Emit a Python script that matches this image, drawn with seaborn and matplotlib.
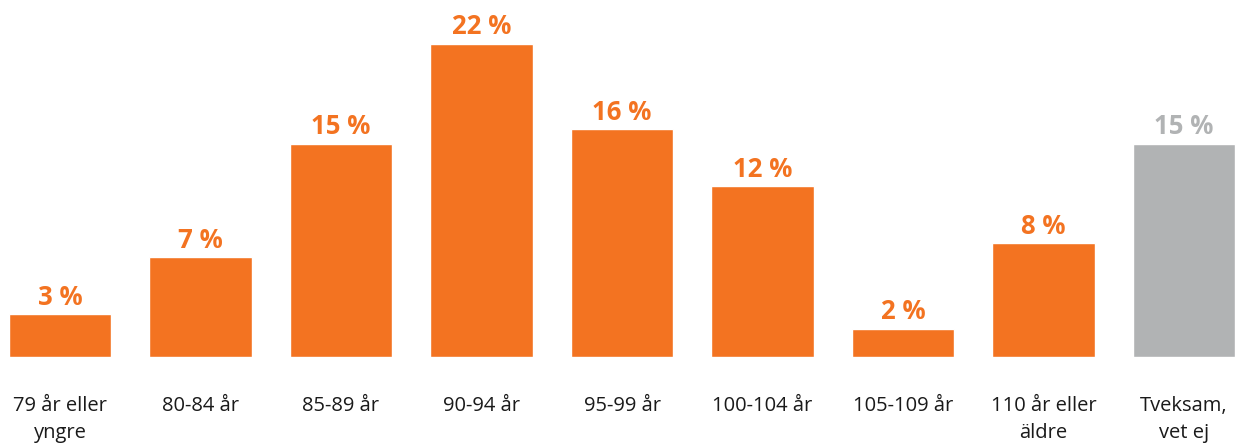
import pandas as pd
import seaborn as sns
import matplotlib.pyplot as plt

categories = ['79 år eller\nyngre', '80-84 år', '85-89 år', '90-94 år', '95-99 år',
              '100-104 år', '105-109 år', '110 år eller\näldre', 'Tveksam,\nvet ej']
values = [3, 7, 15, 22, 16, 12, 2, 8, 15]
orange = '#F37321'
grey = '#B1B3B4'
colors = [orange] * 8 + [grey]

df = pd.DataFrame({'cat': categories, 'val': values})

sns.set_style('white')
plt.rcParams['font.family'] = ['Open Sans', 'DejaVu Sans']

fig = plt.figure(figsize=(12.43, 4.46), dpi=100)
ax = fig.add_axes([0, 89 / 446, 1, (446 - 89) / 446])

sns.barplot(data=df, x='cat', y='val', hue='cat', palette=colors, legend=False,
            width=0.726, saturation=1, ax=ax)

for cont, c in zip(ax.containers, colors):
    ax.bar_label(cont, fmt='%d %%', padding=2.5, color=c, fontsize=18.5, fontweight='bold')

ax.set_xlim(-60 / 140.5, -60 / 140.5 + 1243 / 140.5)
ax.set_ylim(0, 357 / 14.23)
ax.set_xlabel('')
ax.set_ylabel('')
ax.set_yticks([])
ax.tick_params(axis='x', length=0, pad=28)
ax.set_xticks(range(len(categories)))
ax.set_xticklabels(categories, fontsize=14.5, color='#1a1a1a', linespacing=1.45, va='top')
sns.despine(left=True, bottom=True)

fig.savefig('out.png', dpi=100)
